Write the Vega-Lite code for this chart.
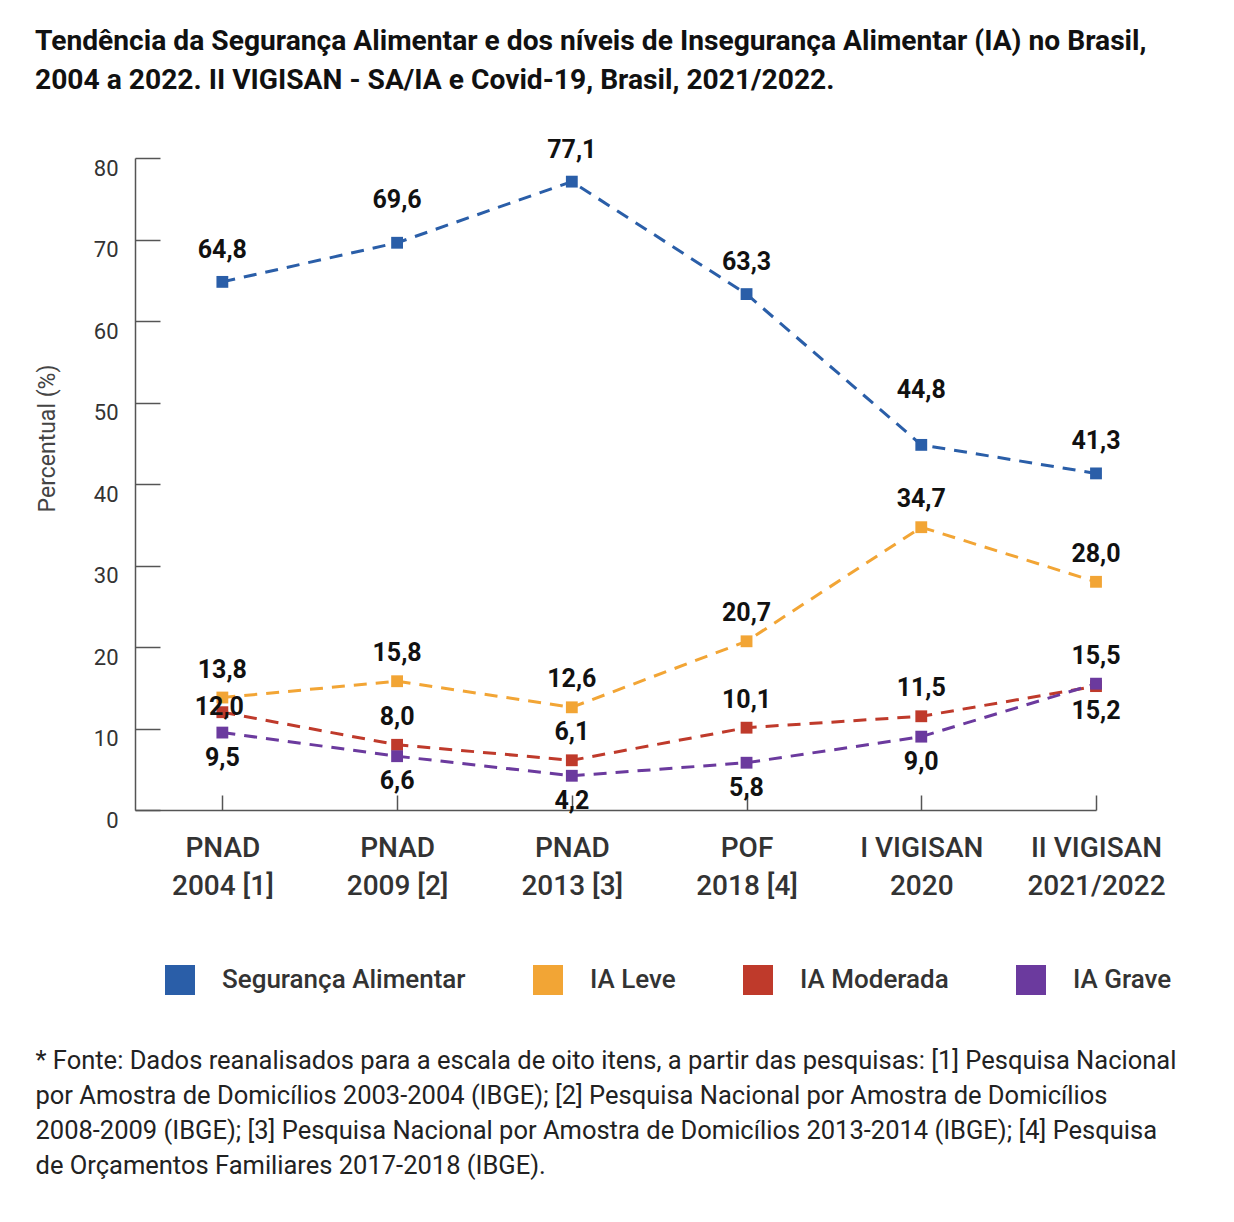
{
  "$schema": "https://vega.github.io/schema/vega-lite/v6.json",
  "width": 961,
  "height": 652,
  "autosize": {"type": "none"},
  "padding": {"left": 135, "top": 158, "right": 138, "bottom": 412},
  "background": "white",
  "config": {
    "view": {"stroke": null},
    "font": "Roboto",
    "locale": {"number": {"decimal": ",", "thousands": ".", "grouping": [3], "currency": ["R$", ""]}}
  },
  "title": {
    "text": ["Tendência da Segurança Alimentar e dos níveis de Insegurança Alimentar (IA) no Brasil,", "2004 a 2022. II VIGISAN - SA/IA e Covid-19, Brasil, 2021/2022."],
    "anchor": "start",
    "frame": "group",
    "dx": -100,
    "offset": 42,
    "font": "Roboto",
    "fontSize": 28.2,
    "fontWeight": "bold",
    "color": "#111111",
    "lineHeight": 39
  },
  "data": {
    "values": [
      {"ordem": 0, "pesquisa": "PNAD 2004", "serie": "Segurança Alimentar", "valor": 64.8},
      {"ordem": 1, "pesquisa": "PNAD 2009", "serie": "Segurança Alimentar", "valor": 69.6},
      {"ordem": 2, "pesquisa": "PNAD 2013", "serie": "Segurança Alimentar", "valor": 77.1},
      {"ordem": 3, "pesquisa": "POF 2018", "serie": "Segurança Alimentar", "valor": 63.3},
      {"ordem": 4, "pesquisa": "I VIGISAN 2020", "serie": "Segurança Alimentar", "valor": 44.8},
      {"ordem": 5, "pesquisa": "II VIGISAN 2021/2022", "serie": "Segurança Alimentar", "valor": 41.3},
      {"ordem": 0, "pesquisa": "PNAD 2004", "serie": "IA Leve", "valor": 13.8},
      {"ordem": 1, "pesquisa": "PNAD 2009", "serie": "IA Leve", "valor": 15.8},
      {"ordem": 2, "pesquisa": "PNAD 2013", "serie": "IA Leve", "valor": 12.6},
      {"ordem": 3, "pesquisa": "POF 2018", "serie": "IA Leve", "valor": 20.7},
      {"ordem": 4, "pesquisa": "I VIGISAN 2020", "serie": "IA Leve", "valor": 34.7},
      {"ordem": 5, "pesquisa": "II VIGISAN 2021/2022", "serie": "IA Leve", "valor": 28.0},
      {"ordem": 0, "pesquisa": "PNAD 2004", "serie": "IA Moderada", "valor": 12.0},
      {"ordem": 1, "pesquisa": "PNAD 2009", "serie": "IA Moderada", "valor": 8.0},
      {"ordem": 2, "pesquisa": "PNAD 2013", "serie": "IA Moderada", "valor": 6.1},
      {"ordem": 3, "pesquisa": "POF 2018", "serie": "IA Moderada", "valor": 10.1},
      {"ordem": 4, "pesquisa": "I VIGISAN 2020", "serie": "IA Moderada", "valor": 11.5},
      {"ordem": 5, "pesquisa": "II VIGISAN 2021/2022", "serie": "IA Moderada", "valor": 15.2},
      {"ordem": 0, "pesquisa": "PNAD 2004", "serie": "IA Grave", "valor": 9.5},
      {"ordem": 1, "pesquisa": "PNAD 2009", "serie": "IA Grave", "valor": 6.6},
      {"ordem": 2, "pesquisa": "PNAD 2013", "serie": "IA Grave", "valor": 4.2},
      {"ordem": 3, "pesquisa": "POF 2018", "serie": "IA Grave", "valor": 5.8},
      {"ordem": 4, "pesquisa": "I VIGISAN 2020", "serie": "IA Grave", "valor": 9.0},
      {"ordem": 5, "pesquisa": "II VIGISAN 2021/2022", "serie": "IA Grave", "valor": 15.5}
    ]
  },
  "encoding": {
    "x": {
      "field": "ordem",
      "type": "quantitative",
      "scale": {"domain": [-0.5, 5], "nice": false, "zero": false},
      "axis": {
        "values": [0, 1, 2, 3, 4, 5],
        "labelExpr": "[['PNAD','2004 [1]'],['PNAD','2009 [2]'],['PNAD','2013 [3]'],['POF','2018 [4]'],['I VIGISAN','2020'],['II VIGISAN','2021/2022']][datum.value]",
        "grid": false,
        "tickSize": -15,
        "tickColor": "#555555",
        "tickWidth": 1.5,
        "domainColor": "#555555",
        "domainWidth": 1.5,
        "labelFont": "Roboto",
        "labelFontSize": 28,
        "labelFontWeight": 500,
        "labelColor": "#333333",
        "labelLineHeight": 38,
        "labelPadding": 39,
        "labelFlush": false,
        "labelBaseline": "top",
        "title": ["* Fonte: Dados reanalisados para a escala de oito itens, a partir das pesquisas: [1] Pesquisa Nacional", "por Amostra de Domicílios 2003-2004 (IBGE); [2] Pesquisa Nacional por Amostra de Domicílios", "2008-2009 (IBGE); [3] Pesquisa Nacional por Amostra de Domicílios 2013-2014 (IBGE); [4] Pesquisa", "de Orçamentos Familiares 2017-2018 (IBGE)."],
        "titleX": -100,
        "titleY": 238,
        "titleAlign": "left",
        "titleBaseline": "top",
        "titleFont": "Roboto",
        "titleFontSize": 25.5,
        "titleFontWeight": "normal",
        "titleColor": "#222222",
        "titleLineHeight": 35
      }
    },
    "y": {
      "field": "valor",
      "type": "quantitative",
      "scale": {"domain": [0, 80], "nice": false},
      "axis": {
        "values": [0, 10, 20, 30, 40, 50, 60, 70, 80],
        "grid": false,
        "tickSize": -25,
        "tickColor": "#555555",
        "tickWidth": 1.5,
        "domainColor": "#555555",
        "domainWidth": 1.5,
        "labelFont": "Roboto",
        "labelFontSize": 22,
        "labelColor": "#333333",
        "labelOffset": 10,
        "labelPadding": 42,
        "title": "Percentual (%)",
        "titleFont": "Roboto",
        "titleFontSize": 23,
        "titleFontWeight": "normal",
        "titleColor": "#444444",
        "titleX": -88,
        "titleY": 280,
        "titleAngle": -90,
        "titleAlign": "center",
        "titleBaseline": "middle"
      }
    },
    "color": {
      "field": "serie",
      "type": "nominal",
      "scale": {
        "domain": ["Segurança Alimentar", "IA Leve", "IA Moderada", "IA Grave"],
        "range": ["#2a5ea8", "#f2a535", "#bf3a2b", "#6b3a9e"]
      },
      "legend": {
        "orient": "none",
        "legendX": 30,
        "legendY": 807,
        "direction": "horizontal",
        "title": null,
        "symbolType": "square",
        "symbolSize": 900,
        "symbolStrokeWidth": 0,
        "symbolOpacity": 1,
        "columnPadding": 67,
        "labelOffset": 27,
        "labelFont": "Roboto",
        "labelFontSize": 26,
        "labelFontWeight": 500,
        "labelColor": "#333333",
        "labelLimit": 400
      }
    }
  },
  "layer": [
    {
      "mark": {"type": "line", "strokeWidth": 3, "strokeDash": [13, 9]}
    },
    {
      "mark": {"type": "point", "shape": "square", "filled": true, "size": 140, "opacity": 1}
    },
    {
      "transform": [{"filter": "datum.serie == 'Segurança Alimentar' && datum.ordem != 1 && datum.ordem != 4"}],
      "mark": {"type": "text", "dy": -32, "font": "Roboto", "fontSize": 25, "fontWeight": "bold", "baseline": "middle"},
      "encoding": {"text": {"field": "valor", "type": "quantitative", "format": ".1f"}, "color": {"value": "#111111"}}
    },
    {
      "transform": [{"filter": "datum.serie == 'Segurança Alimentar' && datum.ordem == 1"}],
      "mark": {"type": "text", "dy": -43, "font": "Roboto", "fontSize": 25, "fontWeight": "bold", "baseline": "middle"},
      "encoding": {"text": {"field": "valor", "type": "quantitative", "format": ".1f"}, "color": {"value": "#111111"}}
    },
    {
      "transform": [{"filter": "datum.serie == 'Segurança Alimentar' && datum.ordem == 4"}],
      "mark": {"type": "text", "dy": -55, "font": "Roboto", "fontSize": 25, "fontWeight": "bold", "baseline": "middle"},
      "encoding": {"text": {"field": "valor", "type": "quantitative", "format": ".1f"}, "color": {"value": "#111111"}}
    },
    {
      "transform": [{"filter": "(datum.serie == 'IA Leve') || (datum.serie == 'IA Moderada' && datum.ordem > 0 && datum.ordem < 5) || (datum.serie == 'IA Grave' && datum.ordem == 5)"}],
      "mark": {"type": "text", "dy": -28, "font": "Roboto", "fontSize": 25, "fontWeight": "bold", "baseline": "middle"},
      "encoding": {"text": {"field": "valor", "type": "quantitative", "format": ".1f"}, "color": {"value": "#111111"}}
    },
    {
      "transform": [{"filter": "(datum.serie == 'IA Grave' && datum.ordem < 5) || (datum.serie == 'IA Moderada' && datum.ordem == 5)"}],
      "mark": {"type": "text", "dy": 25, "font": "Roboto", "fontSize": 25, "fontWeight": "bold", "baseline": "middle"},
      "encoding": {"text": {"field": "valor", "type": "quantitative", "format": ".1f"}, "color": {"value": "#111111"}}
    },
    {
      "transform": [{"filter": "datum.serie == 'IA Moderada' && datum.ordem == 0"}],
      "mark": {"type": "text", "dy": -5, "dx": -3, "font": "Roboto", "fontSize": 25, "fontWeight": "bold", "baseline": "middle"},
      "encoding": {"text": {"field": "valor", "type": "quantitative", "format": ".1f"}, "color": {"value": "#111111"}}
    }
  ]
}
